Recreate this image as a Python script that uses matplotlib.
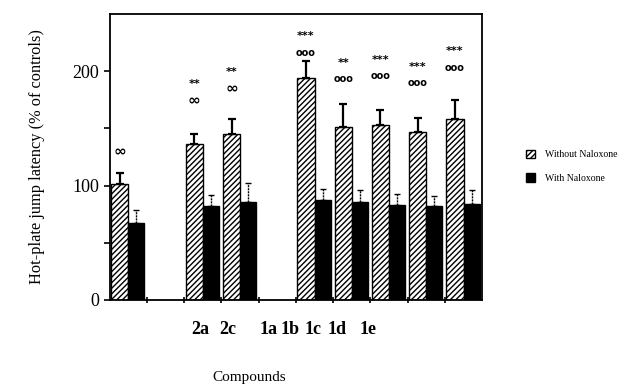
#!/usr/bin/python
# Hot-plate jump latency bar chart, with and without naloxone

import matplotlib
matplotlib.use("Agg")
import matplotlib.pyplot as plt
from matplotlib.patches import Patch

plt.rcParams['font.family'] = ['Liberation Serif', 'DejaVu Serif']
plt.rcParams['hatch.linewidth'] = 1.0

# Slot of each bar pair on the x axis (10 slots, some empty)
slots = [0, 2, 3, 5, 6, 7, 8, 9]
without_nal = [101, 136, 145, 194, 151, 153, 147, 158]
without_err = [10, 9, 13, 15, 20, 13, 12, 17]
with_nal = [67, 82, 86, 87, 86, 83, 82, 84]
with_err = [12, 10, 16, 10, 10, 10, 9, 12]

# Significance marks above the hatched bars and their heights
stars = ["", "**", "**", "***", "**", "***", "***", "***"]
star_y = [0, 189, 199, 231, 207, 210, 204, 218]
circles = ["\u221e", "\u221e", "\u221e", "ooo", "ooo", "ooo", "ooo", "ooo"]
circle_y = [130, 175, 185, 216, 193, 196, 190, 203]

# Compound labels (placed as in the original figure, not under the bars)
compound_names = ["2a", "2c", "1a", "1b", "1c", "1d", "1e"]
compound_pos = [2.42, 3.17, 4.25, 4.84, 5.46, 6.10, 6.94]

## ================================================================================================
## PLOT
## ================================================================================================
fig = plt.figure(figsize=(6.42, 3.86), dpi=100)
ax = fig.add_axes([0.171, 0.223, 0.58, 0.741])

left = [s + 0.04 for s in slots]
right = [s + 0.50 for s in slots]
ax.bar(left, without_nal, width=0.46, align='edge', color='white',
	edgecolor='black', hatch='//////', linewidth=1.0)
ax.bar(right, with_nal, width=0.43, align='edge', color='black', edgecolor='black')

# Only the upper half of the error bars
zeros = [0] * len(slots)
ax.errorbar([x + 0.23 for x in left], without_nal, yerr=[zeros, without_err],
	fmt='none', ecolor='black', elinewidth=1.6, capsize=3, capthick=1.6)
eb = ax.errorbar([x + 0.215 for x in right], with_nal, yerr=[zeros, with_err],
	fmt='none', ecolor='black', elinewidth=1.0, capsize=2.5, capthick=1.0)
eb[2][0].set_linestyle((0, (1.5, 0.7)))

for i, s in enumerate(slots):
	xc = s + 0.27
	if stars[i]:
		ax.text(xc, star_y[i], stars[i], ha='center', va='center', fontsize=8,
			fontweight='bold', family='DejaVu Sans')
	if len(circles[i]) == 1:
		ax.text(xc, circle_y[i], circles[i], ha='center', va='center', fontsize=11,
			fontweight='bold', family='DejaVu Sans')
	else:
		ax.text(xc, circle_y[i], circles[i], ha='center', va='center', fontsize=7,
			fontweight='bold', family='DejaVu Sans')

ax.set_xlim(0, 10)
ax.set_ylim(0, 250)
ax.set_yticks([0, 100, 200])
ax.set_yticks([50, 150], minor=True)
ax.set_xticks(compound_pos)
ax.set_xticklabels(compound_names, fontweight='bold', fontsize=13)
ax.set_xticks(range(1, 10), minor=True)
ax.tick_params(axis='x', which='major', length=0, pad=15)
ax.tick_params(axis='x', which='minor', length=4, direction='inout', width=1.2)
ax.tick_params(axis='y', which='both', length=4, direction='out', width=1.2, labelsize=13)
for sp in ax.spines.values():
	sp.set_linewidth(1.3)

ax.set_ylabel("Hot-plate jump latency (% of controls)", fontsize=11.8, labelpad=20)
fig.text(0.388, 0.005, "Compounds", ha='center', va='bottom', fontsize=11)

handles = [Patch(facecolor='white', edgecolor='black', hatch='//////', label='Without Naloxone'),
	Patch(facecolor='black', edgecolor='black', label='With Naloxone')]
fig.legend(handles=handles, loc='upper left', bbox_to_anchor=(0.805, 0.635), frameon=False,
	fontsize=7, handlelength=1.0, handleheight=1.0, labelspacing=1.4, handletextpad=1.0)

fig.savefig("out.png", dpi=100)
